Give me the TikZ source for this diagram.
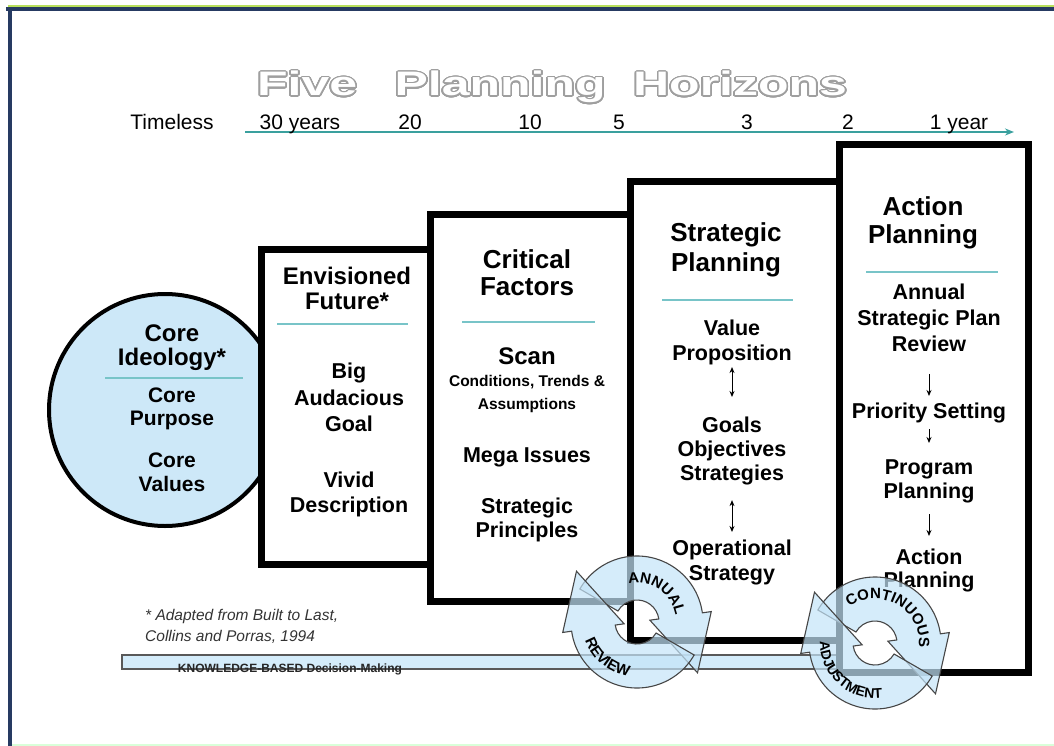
\documentclass[tikz,border=0pt]{standalone}
\usepackage{fontspec}
\setmainfont{Liberation Sans}
\usepackage{contour}
\usetikzlibrary{decorations.text,arrows.meta}
\definecolor{navy}{RGB}{38,58,98}
\definecolor{tealline}{RGB}{120,196,200}
\definecolor{tealarrow}{RGB}{58,160,158}
\definecolor{circblue}{RGB}{205,232,248}
\definecolor{barblue}{RGB}{212,236,250}
\definecolor{cycblue}{RGB}{196,228,248}
\contourlength{1.1pt}
\contournumber{40}
\tikzset{hbox/.style={draw=black,line width=7pt,fill=white},
         sepline/.style={tealline,line width=1.4pt},
         ttl/.style={font=\bfseries\fontsize{26}{28}\selectfont,align=center,inner sep=0,outer sep=0,anchor=north},
         ttls/.style={ttl,font=\bfseries\fontsize{24}{25}\selectfont},
         txt/.style={font=\bfseries\fontsize{21.5}{25}\selectfont,align=center,inner sep=0,outer sep=0,anchor=north},
         updown/.style={{Stealth[length=6pt,width=5pt]}-{Stealth[length=6pt,width=5pt]},line width=1pt},
         down/.style={-{Stealth[length=6pt,width=5pt]},line width=1pt},
         cyc/.style={fill=cycblue,fill opacity=.7,draw=gray!55!black,line width=1.1pt}
}

\begin{document}
\begin{tikzpicture}[x=1pt,y=-1pt]
  \useasboundingbox(0,0)rectangle(1054,746);
  % frame
  \draw[yellow!60!green!70,line width=1.5pt](8,6)--(1054,6);
  \draw[navy,line width=4pt](6,9)--(1054,9);
  \draw[navy,line width=4pt](10,7)--(10,746);
  \draw[green!15,line width=1.5pt](12,745)--(1054,745);
  % title and time axis
  \draw(552,96)node[anchor=base](head){\color{white}\scalebox{1.47}[1]{\contour{gray!75}{\bfseries\fontsize{34}{34}\selectfont Five\hspace{.75em}Planning\hspace{.55em}Horizons}}};
  \coordinate(t0)at(245,132);
  \coordinate(t1)at(1014,132);
  \draw[tealarrow,line width=2.5pt,-{Stealth[length=9pt,width=7pt]}](t0)--(t1);
  \foreach\x/\t[count=\i] in {172/Timeless,300/30 years,410/20,530/10,619/5,747/3,848/2,959/1 year}
     \draw(\x,130)node[anchor=base,font=\fontsize{21}{21}\selectfont](tl\i){\t};
  % knowledge bar
  \draw[fill=barblue,draw=gray!70!black,line width=1.2pt](122,655)rectangle(845,669);
  % core ideology
  \draw[fill=circblue,line width=4pt](165,410)circle(116);
  % the four horizons
  \foreach\l/\t/\r/\b in {261/249/430/564,430/214/630/601,630/182/839/640,839/145/1028/672}
     \draw[hbox](\l,\t)rectangle(\r,\b);
  \draw(172,325)node[ttls,font=\bfseries\fontsize{24}{24}\selectfont](ci){Core\\Ideology*};
  \draw[sepline](105,378)--(243,378);
  \draw(172,388)node[txt,font=\bfseries\fontsize{21}{23}\selectfont](cp){Core\\Purpose};
  \draw(172,453)node[txt,font=\bfseries\fontsize{21}{24}\selectfont](cv){Core\\Values};
  %
  \draw(347,267)node[ttls](ef){Envisioned\\Future*};
  \draw[sepline](277,324)--(408,324);
  \draw(349,363)node[txt,font=\bfseries\fontsize{21.5}{26.5}\selectfont](bg){Big\\Audacious\\Goal};
  \draw(349,472)node[txt](vd){Vivid\\Description};
  %
  \draw(527,250)node[ttl,font=\bfseries\fontsize{26}{27}\selectfont](cf){Critical\\Factors};
  \draw[sepline](462,322)--(595,322);
  \draw(527,348)node[ttls](sc){Scan};
  \draw(527,375)node[txt,font=\bfseries\fontsize{15.5}{23}\selectfont](ct){Conditions, Trends \&\\Assumptions};
  \draw(527,448)node[txt](mi){Mega Issues};
  \draw(527,498)node[txt,font=\bfseries\fontsize{21.5}{24}\selectfont](sp){Strategic\\Principles};
  %
  \draw(726,223)node[ttl,font=\bfseries\fontsize{26}{30}\selectfont](stp){Strategic\\Planning};
  \draw[sepline](662,300)--(793,300);
  \draw(732,320)node[txt](vp){Value\\Proposition};
  \draw(732,417)node[txt,font=\bfseries\fontsize{21.5}{24}\selectfont](gos){Goals\\Objectives\\Strategies};
  \draw(732,540)node[txt](os){Operational\\Strategy};
  \draw[updown,shorten <=2pt,shorten >=20pt](vp.south)--(gos.north);
  \draw[updown,shorten <=15pt,shorten >=8pt](gos.south)--(os.north);
  %
  \draw(923,197)node[ttl](ap){Action\\Planning};
  \draw[sepline](866,272)--(998,272);
  \draw(929,284)node[txt,font=\bfseries\fontsize{21.5}{26}\selectfont](asp){Annual\\Strategic Plan\\Review};
  \draw(929,403)node[txt](ps){Priority Setting};
  \draw(929,460)node[txt,font=\bfseries\fontsize{21.5}{24}\selectfont](pp){Program\\Planning};
  \draw(929,549)node[txt,font=\bfseries\fontsize{21.5}{23}\selectfont](apl){Action\\Planning};
  \draw[down,shorten <=22pt,shorten >=7pt](asp.south)--(ps.north);
  \draw[down,shorten <=6pt,shorten >=17pt](ps.south)--(pp.north);
  \draw[down,shorten <=11pt,shorten >=13pt](pp.south)--(apl.north);
  % notes
  \draw(145,609)node[anchor=north west,align=left,inner sep=0,font=\itshape\fontsize{15.5}{21}\selectfont,text=black!80](fn){* Adapted from Built to Last,\\Collins and Porras, 1994};
  \draw(290,672)node[anchor=base,inner sep=0,font=\bfseries\fontsize{12}{12}\selectfont,text=black!85](kb){KNOWLEDGE-BASED Decision-Making};
  % annual review
  \begin{scope}[shift={(637,622)},y=1pt]
    \draw[cyc](150:66)arc[start angle=150,end angle=8,radius=66]--(8:75)--(-40:79)--(8:13)--(8:22)arc[start angle=8,end angle=150,radius=22]--cycle;
    \draw[cyc](-30:66)arc[start angle=-30,end angle=-172,radius=66]--(-172:75)--(-220:79)--(-172:13)--(-172:22)arc[start angle=-172,end angle=-30,radius=22]--cycle;
    \path[decorate,decoration={text along path,text align=center,text={|\bfseries\fontsize{15}{15}\selectfont|ANNUAL}}](110:39)arc[start angle=110,end angle=2,radius=39];
    \path[decorate,decoration={text along path,text align=center,text={|\bfseries\fontsize{15}{15}\selectfont|REVIEW}}](184:55)arc[start angle=184,end angle=276,radius=55];
  \end{scope}
  % continuous adjustment
  \begin{scope}[shift={(875,643)},y=1pt]
    \draw[cyc](150:66)arc[start angle=150,end angle=8,radius=66]--(8:75)--(-40:79)--(8:13)--(8:22)arc[start angle=8,end angle=150,radius=22]--cycle;
    \draw[cyc](-30:66)arc[start angle=-30,end angle=-172,radius=66]--(-172:75)--(-220:79)--(-172:13)--(-172:22)arc[start angle=-172,end angle=-30,radius=22]--cycle;
    \path[decorate,decoration={text along path,text align=center,text={|\bfseries\fontsize{15}{15}\selectfont|CONTINUOUS}}](132:44)arc[start angle=132,end angle=-12,radius=44];
    \path[decorate,decoration={text along path,text align=center,text={|\bfseries\fontsize{14}{14}\selectfont|ADJUSTMENT}}](168:55)arc[start angle=168,end angle=288,radius=55];
  \end{scope}
\end{tikzpicture}
\end{document}
